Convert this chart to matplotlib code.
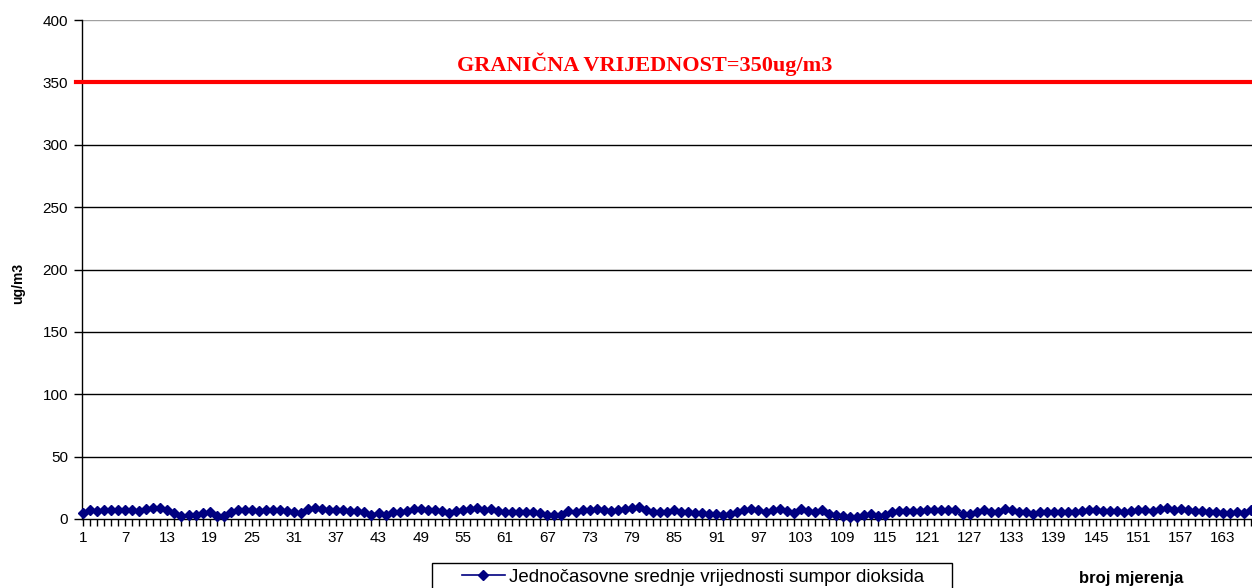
import numpy as np
import matplotlib
matplotlib.use("Agg")
import matplotlib.pyplot as plt
from matplotlib.lines import Line2D
from matplotlib.patches import Rectangle

# Hourly SO2 means (ug/m3)
so2 = [
    4.5, 7.0, 6.5, 7.0, 7.0, 7.0, 7.0, 7.0, 6.5, 8.0,
    8.5, 8.5, 7.0, 4.5, 2.5, 3.5, 3.5, 4.5, 6.0, 2.5,
    2.5, 6.0, 7.0, 7.0, 7.0, 6.5, 7.0, 7.0, 7.0, 6.5,
    5.5, 5.0, 8.0, 8.5, 8.0, 7.0, 7.0, 7.0, 6.5, 6.5,
    5.5, 3.5, 5.0, 3.5, 5.5, 5.5, 6.5, 8.0, 7.9, 7.1,
    7.1, 6.6, 4.5, 6.6, 7.1, 7.9, 8.5, 7.1, 7.9, 6.6,
    5.8, 5.3, 5.8, 5.3, 5.3, 4.5, 3.2, 3.2, 3.2, 6.6,
    5.8, 7.1, 7.1, 7.9, 7.1, 6.6, 7.1, 7.9, 8.5, 9.8,
    7.1, 5.8, 5.3, 5.8, 7.1, 5.8, 5.3, 4.5, 4.5, 3.7,
    3.7, 3.2, 3.7, 5.8, 7.1, 7.9, 7.1, 5.8, 7.1, 7.9,
    6.6, 4.5, 7.9, 6.6, 5.8, 7.1, 3.7, 3.2, 2.6, 1.9,
    1.9, 3.2, 3.7, 2.6, 3.2, 5.8, 6.6, 6.6, 6.6, 6.6,
    7.1, 7.1, 7.1, 7.1, 7.1, 3.7, 3.7, 5.3, 7.1, 5.8,
    5.3, 7.9, 7.1, 5.8, 5.3, 3.7, 5.3, 5.8, 5.3, 5.8,
    5.8, 5.8, 6.6, 7.1, 7.1, 6.6, 6.6, 6.6, 5.8, 6.6,
    7.1, 7.1, 6.6, 7.9, 8.5, 7.1, 7.9, 7.1, 6.6, 6.6,
    5.8, 5.3, 4.5, 4.5, 5.3, 4.5, 7.1,
]
measurement = np.arange(1, len(so2) + 1)
limit = 350
y_ticks = [0, 50, 100, 150, 200, 250, 300, 350, 400]
x_tick_labels = list(range(1, 164, 6))

fig = plt.figure(figsize=(12.52, 5.88), dpi=100)
ax = fig.add_axes([82 / 1252, 1 - 519 / 588, 1170 / 1252, 499 / 588])

# horizontal grid
for v in y_ticks[1:]:
    if v == 400:
        ax.axhline(v, color="#a0a0a0", lw=1, zorder=1)
    elif v != limit:
        ax.axhline(v, color="black", lw=1, zorder=1)

ax.axhline(limit, xmin=-0.005, color="#ff0000", lw=3, zorder=3, clip_on=False)
ax.plot(measurement, so2, color="#000080", lw=1.5, marker="D", ms=5,
        zorder=4, clip_on=False)

ax.set_xlim(0.86, 167.14)
ax.set_ylim(0, 400)

ax.set_yticks(y_ticks)
ax.set_xticks(x_tick_labels)
ax.set_xticks(measurement, minor=True)
ax.tick_params(axis="y", direction="out", length=6, width=1, labelsize=11, pad=4)
ax.tick_params(axis="x", which="both", direction="out", length=5, width=1,
               labelsize=11, pad=4)
for lab in ax.get_xticklabels() + ax.get_yticklabels():
    lab.set_family("Liberation Sans")

for s in ["top", "right"]:
    ax.spines[s].set_visible(False)
ax.spines["left"].set_linewidth(1)
ax.spines["bottom"].set_linewidth(1)

ax.text(0.481, limit + 5, "GRANIČNA VRIJEDNOST=350ug/m3", transform=ax.get_yaxis_transform(),
        ha="center", va="bottom", color="#ff0000", fontsize=16,
        fontweight="bold", family="Liberation Serif")

fig.text(18 / 1252, 1 - 283 / 588, "ug/m3", rotation=90, ha="center", va="center",
         fontsize=10, fontweight="bold", family="Liberation Sans")
fig.text(1131 / 1252, 1 - 578 / 588, "broj mjerenja", ha="center", va="center",
         fontsize=12, fontweight="bold", family="Liberation Sans")

# legend box (runs off the bottom edge like in the original)
fig.patches.append(Rectangle((432 / 1252, -0.05), 520 / 1252, 0.05 + 25 / 588,
                             transform=fig.transFigure, facecolor="white",
                             edgecolor="black", lw=1))
handle = Line2D([], [], color="#000080", lw=1.2, marker="D", ms=5)
leg = fig.legend([handle], ["Jednočasovne srednje vrijednosti sumpor dioksida"],
                 loc="center left", bbox_to_anchor=(462 / 1252, 1 - 577 / 588),
                 borderaxespad=0, borderpad=0, frameon=False,
                 prop={"family": "Liberation Sans", "size": 13.4},
                 handlelength=2.3, handletextpad=0.2)

fig.savefig("out.png", dpi=100)
